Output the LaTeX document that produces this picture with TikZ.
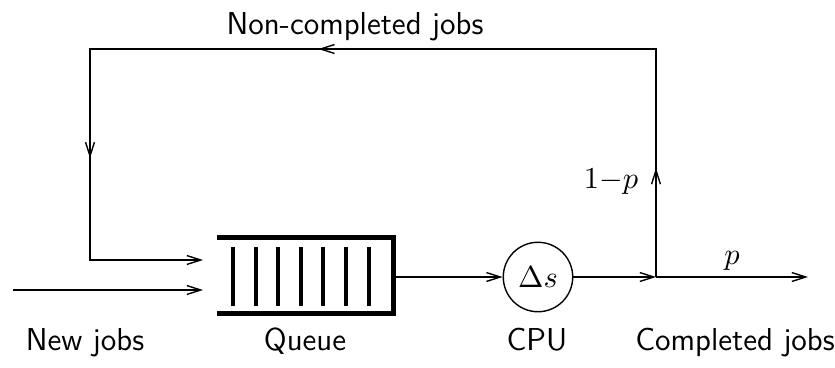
\documentclass[tikz,border=0pt]{standalone}
\usetikzlibrary{arrows.meta,decorations.markings}
\begin{document}
\begin{tikzpicture}[x=0.36pt,y=-0.36pt,
  every node/.style={font=\fontsize{11.4}{13.5}\selectfont\sffamily},
  thinline/.style={line width=0.5pt},
  arr/.style={thinline, -{Straight Barb[length=5pt,width=3.2pt]}},
  qline/.style={line width=1.5pt},
  fbmarks/.style={postaction={decorate},decoration={markings,
    mark=at position 0.0975 with {\arrow{Straight Barb[length=5pt,width=3.2pt]}},
    mark=at position 0.506 with {\arrow{Straight Barb[length=5pt,width=3.2pt]}},
    mark=at position 0.808 with {\arrow{Straight Barb[length=5pt,width=3.2pt]}}}}
]
\useasboundingbox (0,0) rectangle (835,367);
% queue
\node[inner sep=0pt, minimum width=63pt, minimum height=27pt] (queue) at (305.5,275.5) {};
\draw[qline] (queue.north west) -- (queue.north east) -- (queue.south east) -- (queue.south west);
\foreach \i in {0,...,6} \draw[qline] ({233+22.6*\i},247) -- ({233+22.6*\i},306);
% cpu
\node[circle, draw, thinline, minimum size=25pt, inner sep=0pt] (cpu) at (538,277) {$\Delta s$};
% coordinates
\coordinate (j) at (656,277);
\coordinate (out) at (808,277);
\coordinate (tr) at (656,49);
\coordinate (tl) at (90,49);
\coordinate (bl) at (90,260);
\coordinate (qin1) at (203,260);
\coordinate (src) at (13,290);
\coordinate (qin2) at (203,290);
% connectors
\draw[arr] (src) -- (qin2);
\draw[arr] (queue.east |- cpu.west) -- (cpu.west);
\draw[arr] (cpu.east) -- (j);
\draw[arr] (j) -- (out);
\draw[arr, fbmarks] (j) -- (tr) -- (tl) -- (bl) -- (qin1);
% labels
\node[anchor=base] (lnc) at (355,34) {Non-completed jobs};
\node[anchor=base] (lnew) at (85,350) {New jobs};
\node[anchor=base] (lq) at (305,350) {Queue};
\node[anchor=base] (lcpu) at (537,350) {CPU};
\node[anchor=base] (lcomp) at (735,350) {Completed jobs};
\node[anchor=base] (l1p) at (611,188) {$1{-}p$};
\node[anchor=base] (lp) at (732,264) {$p$};
\end{tikzpicture}
\end{document}
